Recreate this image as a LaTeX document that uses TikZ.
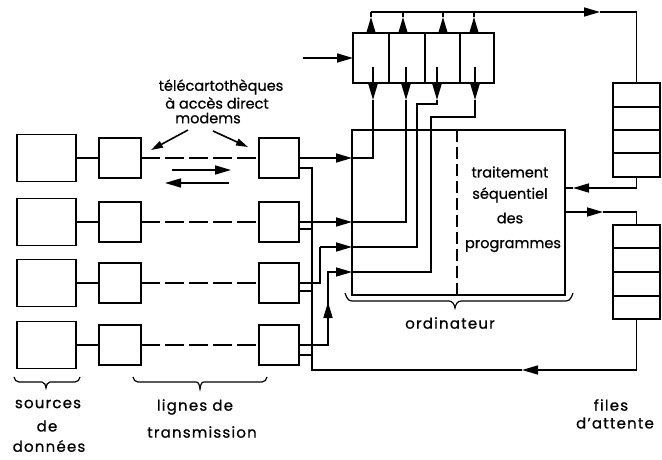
\documentclass[tikz,border=0pt]{standalone}
\usepackage{fontspec}
\setmainfont{Poppins}[FakeBold=0.7]
\usetikzlibrary{arrows.meta}
\begin{document}
\begin{tikzpicture}[x=1pt,y=-1pt,line width=1.6pt,
  box/.style={draw,line width=1.6pt,inner sep=0pt,outer sep=0pt},
  tri/.style={-{Triangle[length=16pt,width=9pt]}},
  trismall/.style={-{Triangle[length=12pt,width=7pt]}},
  lbl/.style={font=\fontsize{14.5}{16}\selectfont,inner sep=0pt,align=center},
  wlbl/.style={font=\fontsize{15}{16}\selectfont\addfontfeatures{LetterSpace=8},inner sep=0pt,align=center},
  dashline/.style={dash pattern=on 19pt off 5pt}]
\useasboundingbox (0,0) rectangle (662,459);

% sources, modems
\foreach \i/\y in {1/158,2/222,3/283,4/345}{
  \node[box,minimum width=59pt,minimum height=47pt] (s\i) at (46.5,\y) {};
  \node[box,minimum width=42pt,minimum height=40pt] (lm\i) at (120,\y) {};
  \node[box,minimum width=40pt,minimum height=40pt] (rm\i) at (279,\y) {};
  \draw (s\i) -- (lm\i);
  \draw[dashline] (lm\i) -- (rm\i);
}

% computer
\node[box,minimum width=213pt,minimum height=165pt] (comp) at (458.5,212.5) {};
\draw[dash pattern=on 12pt off 5pt] (comp.north -| 457,0) -- (comp.south -| 457,0);
\node[lbl] (t1) at (510,172) {traitement};
\node[lbl] (t2) at (510,195) {séquentiel};
\node[lbl] (t3) at (510,218) {des};
\node[lbl] (t4) at (513,246) {programmes};

% register
\node[box,minimum width=141pt,minimum height=50pt] (reg) at (423.5,58) {};
\foreach \x in {389,425,460} \draw (reg.north -| \x,0) -- (reg.south -| \x,0);
\coordinate (regin) at (303,58);
\draw[tri] (regin) -- (reg.west);

% queues
\node[box,minimum width=47pt,minimum height=94pt] (qt) at (636.5,130) {};
\foreach \y in {107,130,153} \draw (qt.west |- 0,\y) -- (qt.east |- 0,\y);
\node[box,minimum width=47pt,minimum height=94pt] (qb) at (636.5,272) {};
\foreach \y in {248,272,296} \draw (qb.west |- 0,\y) -- (qb.east |- 0,\y);

% register outputs up to top line
\foreach \x in {371,403,443,474}{
  \draw[tri] (reg.north -| \x,0) -- (\x,17);
  \draw (\x,17) -- (\x,12);
}
\draw[tri] (371,12) -- (600,12);
\draw (600,12) -| (qt.north);

% register down wires
\foreach \x in {373,406,437,475} \draw[tri] (\x,67) -- (\x,100);
\draw (373,100) |- (comp.west |- 0,158);
\draw (406,100) |- (comp.west |- 0,222);
\draw (437,100) -- (437,104) -| (417,247) -- (comp.west |- 0,247);
\draw (475,100) -- (475,117) -| (431,272) -- (comp.west |- 0,272);

% modem outputs
\draw[tri] (rm1.east) -- (comp.west |- rm1.east);
\draw[tri] (rm2.east) -- (comp.west |- rm2.east);
\draw (rm3.east) -| (320,247);
\draw[tri] (320,247) -- (comp.west |- 0,247);
\draw (rm4.east) -| (328,302);
\draw[tri] (328,345) -- (328,302);
\draw[tri] (328,302) |- (comp.west |- 0,272);

% bus
\draw[tri] (qb.south) |- (522,370);
\draw (522,370) -| (312,168) -- (rm1.east |- 0,168);
\foreach \i/\y in {2/229,3/291,4/355} \draw (rm\i.east |- 0,\y) -- (312,\y);

% queue links
\draw[tri] (qt.south) |- (573,188);
\draw (573,188) -- (comp.east |- 0,188);
\draw[tri] (comp.east |- 0,212) -- (603,212);
\draw (603,212) -| (qb.north);

% top-left labels
\node[lbl] (lt1) at (221,87) {télécartothèques};
\node[lbl] (lt2) at (217,103) {à accès direct};
\node[lbl] (lt3) at (208,118) {modems};
\draw[trismall] (188,130) -- (151,150);
\draw[trismall] (213,131) -- (248,147);
\draw[tri] (172,170) -- (231,170);
\draw[tri] (229,183) -- (165,183);

% braces
\draw[line width=1.2pt] (345,293) to[out=-70,in=180] (352,301) -- (449,301) to[out=0,in=100] (455,308) to[out=80,in=180] (461,301) -- (566,301) to[out=0,in=-110] (573,293);
\node[wlbl] (ord) at (450,323) {ordinateur};
\draw[line width=1.2pt] (14,377) to[out=-80,in=180] (19,382) -- (42,382) to[out=0,in=100] (46,388) to[out=80,in=180] (50,382) -- (75,382) to[out=0,in=-100] (80,377);
\draw[line width=1.2pt] (133,377) to[out=-80,in=180] (138,382) -- (196,382) to[out=0,in=100] (200,389) to[out=80,in=180] (204,382) -- (262,382) to[out=0,in=-100] (267,377);
\node[wlbl] (src1) at (48,404) {sources};
\node[wlbl] (src2) at (47,426) {de};
\node[wlbl] (src3) at (49,446) {données};
\node[wlbl] (lig1) at (195,407) {lignes de};
\node[wlbl] (lig2) at (202,432) {transmission};
\node[wlbl] (fa1) at (611,405) {files};
\node[wlbl] (fa2) at (615,423) {d'attente};
\end{tikzpicture}
\end{document}
